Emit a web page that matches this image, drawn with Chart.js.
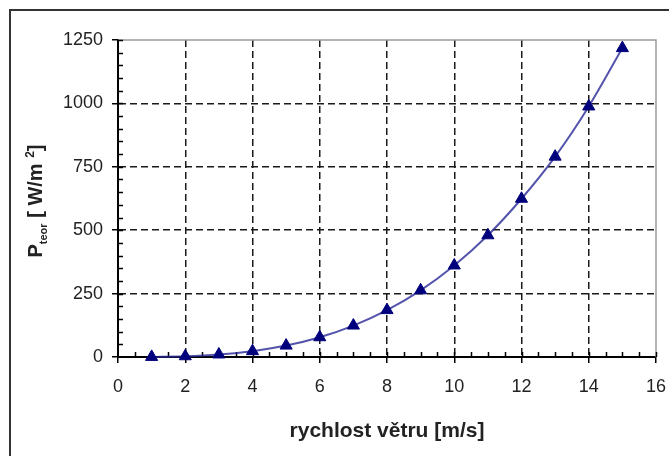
<!DOCTYPE html>
<html>
<head>
<meta charset="utf-8">
<script src="https://cdn.jsdelivr.net/npm/chart.js@4/dist/chart.umd.min.js"></script>
<style>
  html, body { margin: 0; padding: 0; background: #fff; }
  #wrap { width: 669px; height: 456px; }
</style>
</head>
<body>
<div id="wrap"><canvas id="powerChart" width="669" height="456"></canvas></div>
<script>
// rychlost větru [m/s] a teoretický výkon [W/m2]
const speeds = [1, 2, 3, 4, 5, 6, 7, 8, 9, 10, 11, 12, 13, 14, 15];
const power = [0.4, 3, 10, 23, 45, 78, 124, 185, 263, 361, 480, 624, 790, 988, 1218];
const xTicks = [0, 2, 4, 6, 8, 10, 12, 14, 16];
const yTicks = [0, 250, 500, 750, 1000, 1250];
const xMinorStep = 0.5;
const yMinorStep = 50;

const xTitle = "rychlost větru [m/s]";
const yTitle = ["P", "teor", " [ W/m ", "2", "]"];

const fontFam = "'Liberation Sans', Arial, sans-serif";

const gridColor = (edge) => (c) => (c.tick && c.tick.value === edge) ? "rgba(0,0,0,0)" : "#1a1a1a";

// frame, inner ticks, gray plot border, axis titles
const decorPlugin = {
    id: "decor",
    beforeDraw(chart) {
        const ctx = chart.ctx;
        ctx.save();
        ctx.strokeStyle = "#333";
        ctx.lineWidth = 2;
        ctx.beginPath();
        ctx.moveTo(10, 456);
        ctx.lineTo(10, 10);
        ctx.lineTo(669, 10);
        ctx.stroke();
        ctx.restore();
    },
    beforeDatasetsDraw(chart) {
        const ctx = chart.ctx;
        const a = chart.chartArea;
        const xs = chart.scales.x, ys = chart.scales.y;
        ctx.save();
        // gray top/right edge
        ctx.strokeStyle = "#9a9a9a";
        ctx.lineWidth = 1.5;
        ctx.beginPath();
        ctx.moveTo(a.left, a.top);
        ctx.lineTo(a.right, a.top);
        ctx.lineTo(a.right, a.bottom);
        ctx.stroke();
        // ticks pointing into the plot
        ctx.strokeStyle = "#000";
        ctx.lineWidth = 1.5;
        ctx.beginPath();
        for (let v = xs.min + xMinorStep; v <= xs.max + 1e-9; v += xMinorStep) {
            const px = Math.round(xs.getPixelForValue(v)) + 0.5;
            ctx.moveTo(px, a.bottom);
            ctx.lineTo(px, a.bottom - 5);
        }
        for (let v = ys.min + yMinorStep; v <= ys.max + 1e-9; v += yMinorStep) {
            const py = Math.round(ys.getPixelForValue(v)) + 0.5;
            ctx.moveTo(a.left, py);
            ctx.lineTo(a.left + 5, py);
        }
        ctx.stroke();
        ctx.restore();
    },
    afterDraw(chart) {
        const ctx = chart.ctx;
        const a = chart.chartArea;
        ctx.save();
        ctx.fillStyle = "#222";
        ctx.textAlign = "center";
        ctx.textBaseline = "alphabetic";
        ctx.font = "bold 21px " + fontFam;
        ctx.fillText(xTitle, (a.left + a.right) / 2, 437);

        // y title with sub/superscript, rotated
        const big = "bold 20px " + fontFam;
        const sub = "bold 11px " + fontFam;
        const sup = "bold 12px " + fontFam;
        const parts = [
            { t: yTitle[0], f: big, dy: 0 },
            { t: yTitle[1], f: sub, dy: 5 },
            { t: yTitle[2], f: big, dy: 0 },
            { t: yTitle[3], f: sup, dy: -8 },
            { t: yTitle[4], f: big, dy: 0 }
        ];
        let total = 0;
        parts.forEach(p => { ctx.font = p.f; p.w = ctx.measureText(p.t).width; total += p.w; });
        ctx.translate(42, 201);
        ctx.rotate(-Math.PI / 2);
        ctx.textAlign = "left";
        let x = -total / 2;
        parts.forEach(p => {
            ctx.font = p.f;
            ctx.fillText(p.t, x, p.dy);
            x += p.w;
        });
        ctx.restore();
    }
};

new Chart(document.getElementById("powerChart"), {
    type: "line",
    plugins: [decorPlugin],
    data: {
        datasets: [{
            data: speeds.map((s, i) => ({ x: s, y: power[i] })),
            borderColor: "rgba(40,40,150,0.8)",
            borderWidth: 2,
            cubicInterpolationMode: "monotone",
            pointStyle: "triangle",
            pointRadius: 7,
            pointBackgroundColor: "#00007c",
            pointBorderColor: "#00007c",
            pointBorderWidth: 1,
            clip: false
        }]
    },
    options: {
        responsive: false,
        devicePixelRatio: 1,
        animation: false,
        layout: { padding: { top: 40, right: 13, left: 0, bottom: 0 } },
        plugins: { legend: { display: false }, tooltip: { enabled: false } },
        scales: {
            x: {
                type: "linear",
                min: 0,
                max: 16,
                afterFit: (s) => { s.height = 99; s.paddingLeft = 0; s.paddingRight = 0; },
                afterBuildTicks: (s) => { s.ticks = xTicks.map(v => ({ value: v })); },
                ticks: {
                    color: "#222",
                    font: { family: fontFam, size: 18 },
                    padding: 13,
                    maxRotation: 0,
                    callback: (v) => String(v)
                },
                grid: {
                    color: gridColor(16),
                    lineWidth: 1.5,
                    tickColor: "#000",
                    tickLength: 6,
                    tickWidth: 1.5
                },
                border: { color: "#000", width: 2, dash: [7, 4] }
            },
            y: {
                type: "linear",
                min: 0,
                max: 1250,
                afterFit: (s) => { s.width = 118; s.paddingTop = 0; s.paddingBottom = 0; },
                afterBuildTicks: (s) => { s.ticks = yTicks.map(v => ({ value: v })); },
                ticks: {
                    color: "#222",
                    font: { family: fontFam, size: 18 },
                    padding: 9,
                    callback: (v) => String(v)
                },
                grid: {
                    color: gridColor(1250),
                    lineWidth: 1.5,
                    tickColor: "#000",
                    tickLength: 6,
                    tickWidth: 1.5
                },
                border: { color: "#000", width: 2, dash: [7, 4] }
            }
        }
    }
});
</script>
</body>
</html>
